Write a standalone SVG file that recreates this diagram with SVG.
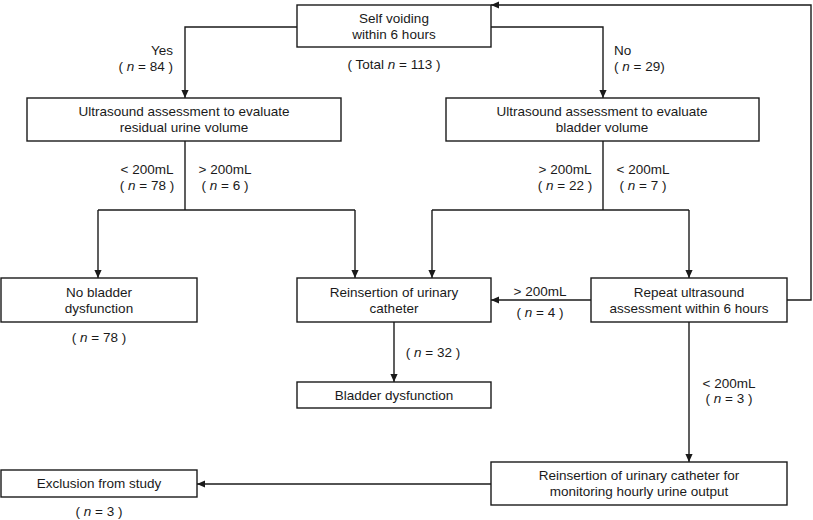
<svg xmlns="http://www.w3.org/2000/svg" width="813" height="520" viewBox="0 0 813 520">
<style>
.box{fill:#fff;stroke:#1a1a1a;stroke-width:1.4}
.ln{fill:none;stroke:#1a1a1a;stroke-width:1.4}
text{font-family:"Liberation Sans",Arial,sans-serif;font-size:13.5px;fill:#1a1a1a}
.c{text-anchor:middle}
.r{text-anchor:end}
.i{font-style:italic}
</style>
<defs>
<marker id="ah" viewBox="0 0 10 10" refX="10" refY="5" markerWidth="8" markerHeight="8" markerUnits="userSpaceOnUse" orient="auto">
<path d="M0,0.5 L10,5 L0,9.5 z" fill="#1a1a1a"/>
</marker>
</defs>
<g id="connectors">
<path class="ln" d="M297,27 H185 V98" marker-end="url(#ah)"/>
<path class="ln" d="M491,27 H603 V98" marker-end="url(#ah)"/>
<path class="ln" d="M185,141 V210"/>
<path class="ln" d="M98,210 H355"/>
<path class="ln" d="M98,210 V278" marker-end="url(#ah)"/>
<path class="ln" d="M355,210 V278" marker-end="url(#ah)"/>
<path class="ln" d="M603,141 V210"/>
<path class="ln" d="M432,210 H689"/>
<path class="ln" d="M432,210 V278" marker-end="url(#ah)"/>
<path class="ln" d="M689,210 V278" marker-end="url(#ah)"/>
<path class="ln" d="M591,300 H491" marker-end="url(#ah)"/>
<path class="ln" d="M787,300 H811 V5 H491" marker-end="url(#ah)"/>
<path class="ln" d="M394,322 V382" marker-end="url(#ah)"/>
<path class="ln" d="M689,322 V462" marker-end="url(#ah)"/>
<path class="ln" d="M491,484 H197" marker-end="url(#ah)"/>
<text x="173" y="55" class="r">Yes</text>
<text x="173" y="71" class="r">( <tspan class="i">n</tspan> = 84 )</text>
<text x="614" y="55">No</text>
<text x="614" y="71">( <tspan class="i">n</tspan> = 29)</text>
<text x="147" y="174" class="c">&lt; 200mL</text>
<text x="147" y="190" class="c">( <tspan class="i">n</tspan> = 78 )</text>
<text x="225" y="174" class="c">&gt; 200mL</text>
<text x="225" y="190" class="c">( <tspan class="i">n</tspan> = 6 )</text>
<text x="565" y="174" class="c">&gt; 200mL</text>
<text x="565" y="190" class="c">( <tspan class="i">n</tspan> = 22 )</text>
<text x="643" y="174" class="c">&lt; 200mL</text>
<text x="643" y="190" class="c">( <tspan class="i">n</tspan> = 7 )</text>
<text x="540" y="296" class="c">&gt; 200mL</text>
<text x="540" y="317" class="c">( <tspan class="i">n</tspan> = 4 )</text>
<text x="433" y="357" class="c">( <tspan class="i">n</tspan> = 32 )</text>
<text x="729" y="388" class="c">&lt; 200mL</text>
<text x="729" y="403" class="c">( <tspan class="i">n</tspan> = 3 )</text>
</g>
<g id="n_self">
<rect class="box" x="297" y="5" width="194" height="42"/>
<text x="394" y="23" class="c">Self voiding</text>
<text x="394" y="39" class="c">within 6 hours</text>
<text x="394" y="69" class="c">( Total <tspan class="i">n</tspan> = 113 )</text>
</g>
<g id="n_us_residual">
<rect class="box" x="27" y="98" width="314" height="43"/>
<text x="184" y="116" class="c">Ultrasound assessment to evaluate</text>
<text x="184" y="132" class="c">residual urine volume</text>
</g>
<g id="n_us_bladder">
<rect class="box" x="446" y="98" width="313" height="43"/>
<text x="602" y="116" class="c">Ultrasound assessment to evaluate</text>
<text x="602" y="132" class="c">bladder volume</text>
</g>
<g id="n_no_dys">
<rect class="box" x="1" y="278" width="196" height="44"/>
<text x="99" y="297" class="c">No bladder</text>
<text x="99" y="313" class="c">dysfunction</text>
<text x="99" y="342" class="c">( <tspan class="i">n</tspan> = 78 )</text>
</g>
<g id="n_reinsert">
<rect class="box" x="297" y="278" width="194" height="44"/>
<text x="394" y="297" class="c">Reinsertion of urinary</text>
<text x="394" y="313" class="c">catheter</text>
</g>
<g id="n_repeat">
<rect class="box" x="591" y="278" width="196" height="44"/>
<text x="689" y="297" class="c">Repeat ultrasound</text>
<text x="689" y="313" class="c">assessment within 6 hours</text>
</g>
<g id="n_bladder_dys">
<rect class="box" x="297" y="382" width="194" height="26"/>
<text x="394" y="400" class="c">Bladder dysfunction</text>
</g>
<g id="n_monitor">
<rect class="box" x="491" y="462" width="296" height="43"/>
<text x="639" y="480" class="c">Reinsertion of urinary catheter for</text>
<text x="639" y="496" class="c">monitoring hourly urine output</text>
</g>
<g id="n_exclusion">
<rect class="box" x="1" y="470" width="196" height="27"/>
<text x="99" y="488" class="c">Exclusion from study</text>
<text x="99" y="516" class="c">( <tspan class="i">n</tspan> = 3 )</text>
</g>
</svg>
